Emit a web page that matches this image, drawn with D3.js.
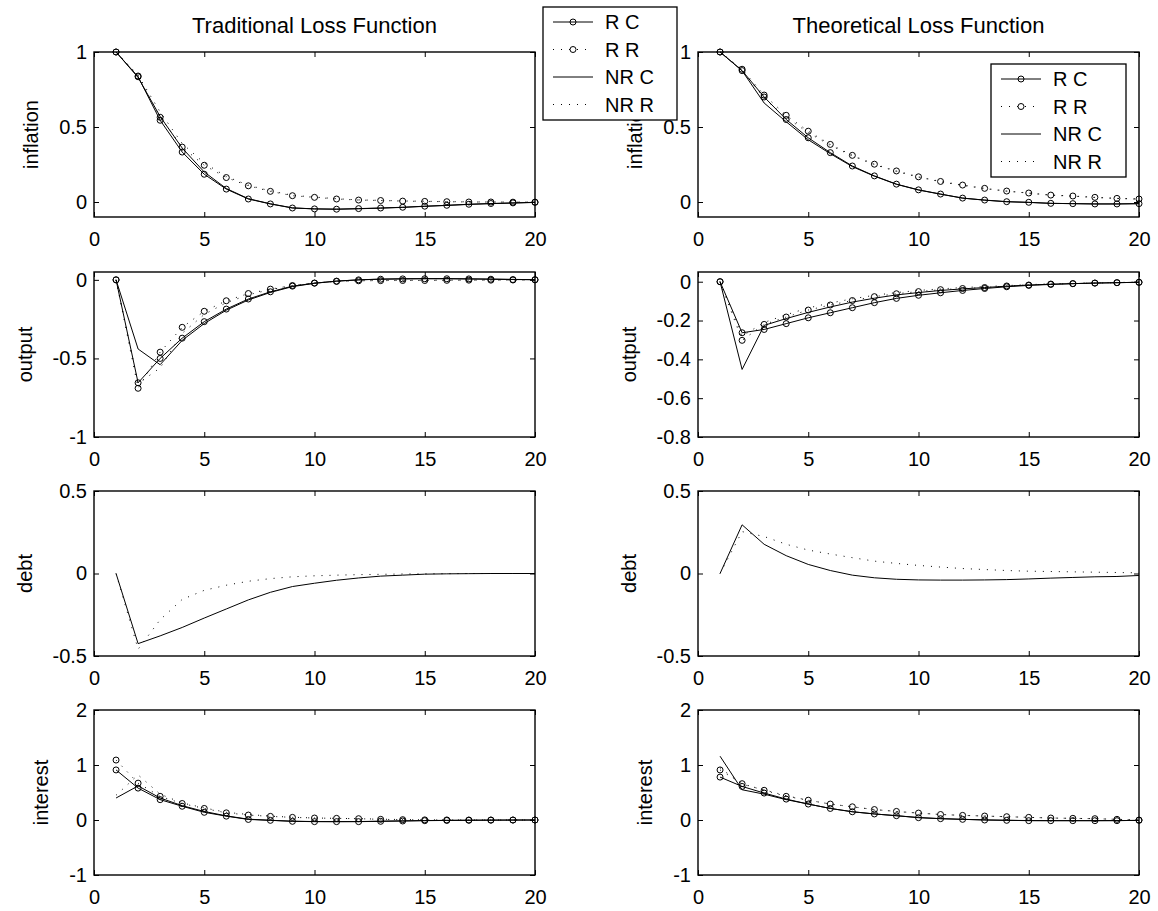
<!DOCTYPE html>
<html lang="en">
  <head>
    <meta charset="UTF-8" />
    <title>Loss functions</title>
    <style>
      body { margin: 0; background: #fff; }
      svg text { font-family: "Liberation Sans", Arial, sans-serif; font-size: 20px; fill: #000; }
      svg text.title { font-size: 22px; }
    </style>
  </head>
  <body>
    <svg id="svg" width="1158" height="911"></svg>

    <script src="https://cdn.jsdelivr.net/npm/d3@7"></script>
    <script>
      // ---- data ----
      const periods = [1, 2, 3, 4, 5, 6, 7, 8, 9, 10, 11, 12, 13, 14, 15, 16, 17, 18, 19, 20];
      const seriesNames = ["R C", "R R", "NR C", "NR R"];
      const titles = ["Traditional Loss Function", "Theoretical Loss Function"];
      const xTicks = [0, 5, 10, 15, 20];

      const inflTicks = [0, 0.5, 1];
      const tradOutTicks = [-1, -0.5, 0];
      const theoOutTicks = [-0.8, -0.6, -0.4, -0.2, 0];
      const debtTicks = [-0.5, 0, 0.5];
      const intTicks = [-1, 0, 1, 2];

      const tradInflRC = [1.0, 0.835, 0.545, 0.333, 0.185, 0.086, 0.02, -0.013, -0.04, -0.046, -0.048, -0.044, -0.04, -0.035, -0.028, -0.022, -0.015, -0.01, -0.006, -0.002];
      const tradInflRR = [1.0, 0.84, 0.565, 0.366, 0.245, 0.163, 0.108, 0.071, 0.042, 0.031, 0.02, 0.013, 0.01, 0.006, 0.004, 0.002, 0.0, 0.0, -0.001, -0.001];
      const tradInflNRC = [1.0, 0.83, 0.57, 0.36, 0.2, 0.09, 0.022, -0.012, -0.039, -0.046, -0.048, -0.045, -0.041, -0.036, -0.029, -0.023, -0.016, -0.011, -0.007, -0.003];
      const tradInflNRR = [1.0, 0.845, 0.6, 0.39, 0.26, 0.17, 0.112, 0.074, 0.045, 0.033, 0.022, 0.014, 0.011, 0.007, 0.005, 0.003, 0.001, 0.0, 0.0, 0.0];

      const theoInflRC = [1.0, 0.876, 0.7, 0.55, 0.428, 0.329, 0.24, 0.174, 0.119, 0.081, 0.053, 0.026, 0.013, 0.002, -0.002, -0.009, -0.011, -0.013, -0.013, -0.011];
      const theoInflRR = [1.0, 0.885, 0.713, 0.578, 0.472, 0.384, 0.311, 0.252, 0.207, 0.168, 0.137, 0.113, 0.091, 0.073, 0.06, 0.046, 0.04, 0.031, 0.024, 0.02];
      const theoInflNRC = [1.0, 0.875, 0.66, 0.535, 0.415, 0.322, 0.236, 0.172, 0.118, 0.08, 0.052, 0.026, 0.012, 0.002, -0.003, -0.009, -0.011, -0.013, -0.013, -0.011];
      const theoInflNRR = [1.0, 0.88, 0.69, 0.565, 0.462, 0.378, 0.307, 0.249, 0.204, 0.166, 0.135, 0.111, 0.089, 0.072, 0.059, 0.045, 0.039, 0.03, 0.024, 0.019];

      const tradOutRC = [0, -0.655, -0.5, -0.371, -0.266, -0.186, -0.122, -0.076, -0.04, -0.021, -0.008, 0.0, 0.004, 0.006, 0.007, 0.007, 0.006, 0.004, 0.002, 0.001];
      const tradOutRR = [0, -0.69, -0.46, -0.302, -0.2, -0.133, -0.087, -0.059, -0.036, -0.02, -0.01, -0.006, -0.005, -0.004, -0.004, -0.003, -0.002, -0.002, -0.001, 0.0];
      const tradOutNRC = [0, -0.44, -0.54, -0.385, -0.278, -0.193, -0.128, -0.08, -0.043, -0.022, -0.008, 0.0, 0.005, 0.007, 0.008, 0.008, 0.006, 0.005, 0.003, 0.001];
      const tradOutNRR = [0, -0.66, -0.56, -0.34, -0.22, -0.145, -0.095, -0.062, -0.037, -0.02, -0.01, -0.006, -0.004, -0.003, -0.003, -0.002, -0.002, -0.001, -0.001, 0.0];

      const theoOutRC = [0, -0.263, -0.246, -0.216, -0.186, -0.16, -0.134, -0.108, -0.086, -0.07, -0.057, -0.045, -0.035, -0.026, -0.019, -0.014, -0.01, -0.007, -0.005, -0.003];
      const theoOutRR = [0, -0.302, -0.22, -0.182, -0.146, -0.12, -0.097, -0.077, -0.062, -0.051, -0.041, -0.035, -0.03, -0.022, -0.017, -0.012, -0.01, -0.007, -0.005, -0.003];
      const theoOutNRC = [0, -0.452, -0.225, -0.19, -0.158, -0.13, -0.105, -0.085, -0.068, -0.056, -0.045, -0.037, -0.03, -0.023, -0.017, -0.013, -0.01, -0.007, -0.005, -0.003];
      const theoOutNRR = [0, -0.28, -0.21, -0.17, -0.135, -0.11, -0.088, -0.07, -0.056, -0.045, -0.037, -0.03, -0.025, -0.02, -0.015, -0.011, -0.008, -0.006, -0.004, -0.002];

      const tradDebtNRC = [0, -0.425, -0.378, -0.327, -0.27, -0.215, -0.16, -0.114, -0.079, -0.059, -0.041, -0.027, -0.016, -0.01, -0.004, -0.002, -0.001, 0.0, 0.0, 0.0];
      const tradDebtNRR = [0, -0.459, -0.28, -0.157, -0.102, -0.071, -0.047, -0.031, -0.02, -0.014, -0.01, -0.007, -0.005, -0.003, -0.002, -0.001, 0.0, 0.0, 0.0, 0.0];
      const theoDebtNRC = [0, 0.295, 0.177, 0.108, 0.055, 0.018, -0.01, -0.026, -0.035, -0.039, -0.04, -0.04, -0.039, -0.037, -0.033, -0.028, -0.024, -0.02, -0.018, -0.012];
      const theoDebtNRR = [0, 0.254, 0.224, 0.177, 0.142, 0.118, 0.096, 0.075, 0.061, 0.049, 0.039, 0.03, 0.024, 0.018, 0.014, 0.012, 0.01, 0.008, 0.006, 0.004];

      const tradIntRC = [0.91, 0.58, 0.37, 0.25, 0.14, 0.07, 0.01, -0.006, -0.024, -0.03, -0.03, -0.03, -0.024, -0.018, -0.012, -0.008, -0.005, -0.003, -0.001, 0.0];
      const tradIntRR = [1.09, 0.67, 0.43, 0.3, 0.21, 0.13, 0.09, 0.066, 0.048, 0.036, 0.03, 0.024, 0.012, 0.006, 0.002, 0.001, 0.0, 0.0, 0.0, 0.0];
      const tradIntNRC = [0.4, 0.62, 0.4, 0.26, 0.155, 0.075, 0.015, -0.005, -0.022, -0.028, -0.03, -0.028, -0.022, -0.016, -0.01, -0.006, -0.004, -0.002, -0.001, 0.0];
      const tradIntNRR = [0.45, 0.82, 0.47, 0.31, 0.22, 0.14, 0.1, 0.07, 0.05, 0.037, 0.03, 0.024, 0.015, 0.008, 0.003, 0.001, 0.0, 0.0, 0.0, 0.0];

      const theoIntRC = [0.78, 0.61, 0.49, 0.38, 0.29, 0.21, 0.15, 0.11, 0.078, 0.042, 0.024, 0.012, 0.0, -0.006, -0.012, -0.012, -0.012, -0.012, -0.012, -0.006];
      const theoIntRR = [0.91, 0.66, 0.54, 0.43, 0.36, 0.29, 0.24, 0.19, 0.156, 0.126, 0.1, 0.084, 0.072, 0.06, 0.048, 0.036, 0.03, 0.024, 0.012, 0.0];
      const theoIntNRC = [1.16, 0.55, 0.47, 0.37, 0.29, 0.21, 0.15, 0.11, 0.078, 0.045, 0.025, 0.012, 0.002, -0.005, -0.01, -0.012, -0.012, -0.012, -0.01, -0.008];
      const theoIntNRR = [0.95, 0.65, 0.55, 0.44, 0.36, 0.29, 0.24, 0.19, 0.155, 0.125, 0.1, 0.084, 0.072, 0.06, 0.048, 0.036, 0.03, 0.024, 0.012, 0.0];

      // ---- layout ----
      const COL_X = [94, 698];
      const ROW_Y = [52, 272, 491, 710];
      const BOX_W = 441;
      const BOX_H = 165;
      const DOTS = "1,7";
      const styles = [
        { dash: null, marker: true },
        { dash: DOTS, marker: true },
        { dash: null, marker: false },
        { dash: DOTS, marker: false },
      ];

      const panels = [
        { col: 0, row: 0, label: "inflation", domain: [-0.1, 1], ticks: inflTicks, series: [tradInflRC, tradInflRR, tradInflNRC, tradInflNRR] },
        { col: 1, row: 0, label: "inflation", domain: [-0.1, 1], ticks: inflTicks, series: [theoInflRC, theoInflRR, theoInflNRC, theoInflNRR] },
        { col: 0, row: 1, label: "output", domain: [-1, 0.05], ticks: tradOutTicks, series: [tradOutRC, tradOutRR, tradOutNRC, tradOutNRR] },
        { col: 1, row: 1, label: "output", domain: [-0.8, 0.05], ticks: theoOutTicks, series: [theoOutRC, theoOutRR, theoOutNRC, theoOutNRR] },
        { col: 0, row: 2, label: "debt", domain: [-0.5, 0.5], ticks: debtTicks, series: [null, null, tradDebtNRC, tradDebtNRR] },
        { col: 1, row: 2, label: "debt", domain: [-0.5, 0.5], ticks: debtTicks, series: [null, null, theoDebtNRC, theoDebtNRR] },
        { col: 0, row: 3, label: "interest", domain: [-1, 2], ticks: intTicks, series: [tradIntRC, tradIntRR, tradIntNRC, tradIntNRR] },
        { col: 1, row: 3, label: "interest", domain: [-1, 2], ticks: intTicks, series: [theoIntRC, theoIntRR, theoIntNRC, theoIntNRR] },
      ];

      const svg = d3.select("#svg");
      const xScale = d3.scaleLinear().domain([0, 20]).range([0, BOX_W]);

      function drawPanel(p) {
        const g = svg.append("g").attr("transform", `translate(${COL_X[p.col]}, ${ROW_Y[p.row]})`);
        const yScale = d3.scaleLinear().domain(p.domain).range([BOX_H, 0]);

        const bottomAxis = d3.axisBottom(xScale).tickValues(xTicks).tickFormat((d) => String(d))
          .tickSizeInner(-5).tickSizeOuter(0).tickPadding(15);
        const topAxis = d3.axisTop(xScale).tickValues(xTicks).tickFormat("").tickSizeInner(-5).tickSizeOuter(0);
        const leftAxis = d3.axisLeft(yScale).tickValues(p.ticks).tickFormat((d) => String(d))
          .tickSizeInner(-5).tickSizeOuter(0).tickPadding(7);
        const rightAxis = d3.axisRight(yScale).tickValues(p.ticks).tickFormat("").tickSizeInner(-5).tickSizeOuter(0);

        const axes = [
          g.append("g").attr("transform", `translate(0, ${BOX_H})`).call(bottomAxis),
          g.append("g").call(topAxis),
          g.append("g").attr("class", "yaxis").call(leftAxis),
          g.append("g").attr("transform", `translate(${BOX_W}, 0)`).call(rightAxis),
        ];
        axes.forEach((a) => {
          a.select(".domain").remove();
          a.selectAll("line").attr("stroke", "#000");
          a.selectAll("text").attr("font-size", null).attr("font-family", null);
        });

        g.append("rect").attr("width", BOX_W).attr("height", BOX_H)
          .attr("fill", "none").attr("stroke", "#000").attr("stroke-width", 1.4);

        // y label just left of the widest tick label
        const tickLeft = d3.min(g.select(".yaxis").selectAll("text").nodes(), (n) => n.getBBox().x);
        g.append("text")
          .attr("transform", `translate(${tickLeft - 28}, ${BOX_H / 2}) rotate(-90)`)
          .attr("text-anchor", "middle")
          .attr("dy", "0.35em")
          .text(p.label);

        if (p.row === 0) {
          g.append("text").attr("class", "title").attr("x", BOX_W / 2).attr("y", -19)
            .attr("text-anchor", "middle").text(titles[p.col]);
        }

        const line = d3.line().x((d, i) => xScale(periods[i])).y((d) => yScale(d));
        p.series.forEach((values, k) => {
          if (!values) return;
          g.append("path").datum(values).attr("d", line)
            .attr("fill", "none").attr("stroke", "#000").attr("stroke-width", 1)
            .attr("stroke-dasharray", styles[k].dash);
          if (styles[k].marker) {
            g.append("g").selectAll("circle").data(values).enter().append("circle")
              .attr("cx", (d, i) => xScale(periods[i]))
              .attr("cy", (d) => yScale(d))
              .attr("r", 3)
              .attr("fill", "none").attr("stroke", "#000").attr("stroke-width", 1);
          }
        });
      }

      function drawLegend(x, y, w, h) {
        const g = svg.append("g").attr("transform", `translate(${x}, ${y})`);
        g.append("rect").attr("width", w).attr("height", h)
          .attr("fill", "#fff").attr("stroke", "#000").attr("stroke-width", 1.3);
        seriesNames.forEach((name, k) => {
          const cy = 15 + k * 27.5;
          g.append("line").attr("x1", 10).attr("x2", 50).attr("y1", cy).attr("y2", cy)
            .attr("stroke", "#000").attr("stroke-width", 1).attr("stroke-dasharray", styles[k].dash);
          if (styles[k].marker) {
            g.append("circle").attr("cx", 30).attr("cy", cy).attr("r", 3)
              .attr("fill", "none").attr("stroke", "#000");
          }
          g.append("text").attr("x", 62).attr("y", cy).attr("dy", "0.35em").text(name);
        });
      }

      panels.forEach(drawPanel);
      drawLegend(543, 7, 134, 113);
      drawLegend(991, 64, 135, 113);
    </script>
  </body>
</html>
